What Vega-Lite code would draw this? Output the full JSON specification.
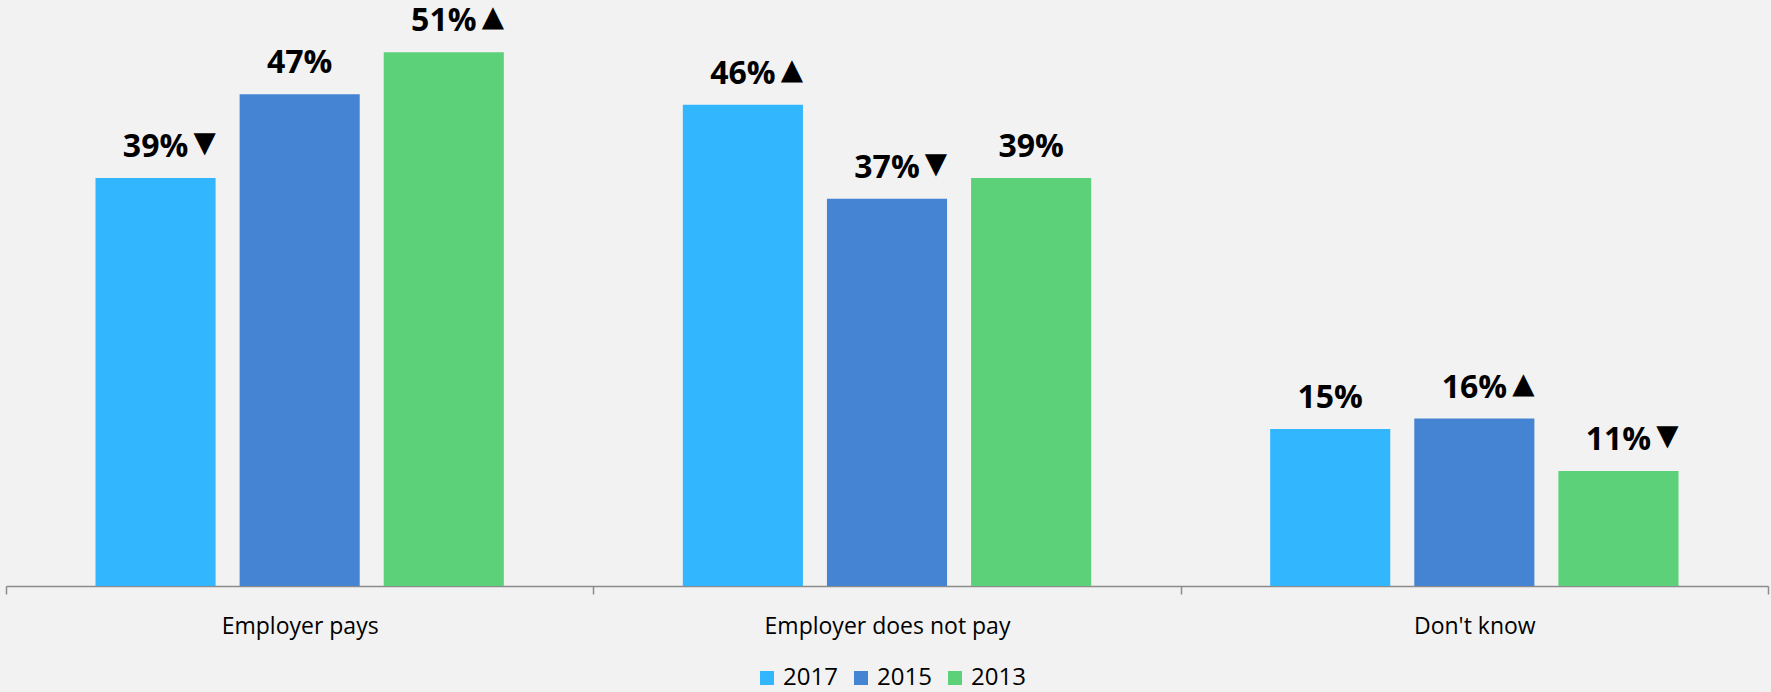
{
  "$schema": "https://vega.github.io/schema/vega-lite/v6.json",
  "width": 1762,
  "height": 586,
  "autosize": {"type": "none"},
  "padding": {"left": 6, "top": 0, "right": 3, "bottom": 106},
  "background": "#f2f2f2",
  "config": {"view": {"stroke": null}, "font": "Open Sans"},
  "data": {"values": [
    {"cat": "Employer pays", "year": "2017", "value": 0.39, "label": "39%", "arrow": "▼"},
    {"cat": "Employer pays", "year": "2015", "value": 0.47, "label": "47%", "arrow": ""},
    {"cat": "Employer pays", "year": "2013", "value": 0.51, "label": "51%", "arrow": "▲"},
    {"cat": "Employer does not pay", "year": "2017", "value": 0.46, "label": "46%", "arrow": "▲"},
    {"cat": "Employer does not pay", "year": "2015", "value": 0.37, "label": "37%", "arrow": "▼"},
    {"cat": "Employer does not pay", "year": "2013", "value": 0.39, "label": "39%", "arrow": ""},
    {"cat": "Don't know", "year": "2017", "value": 0.15, "label": "15%", "arrow": ""},
    {"cat": "Don't know", "year": "2015", "value": 0.16, "label": "16%", "arrow": "▲"},
    {"cat": "Don't know", "year": "2013", "value": 0.11, "label": "11%", "arrow": "▼"}
  ]},
  "encoding": {
    "x": {
      "field": "cat", "type": "nominal", "sort": ["Employer pays", "Employer does not pay", "Don't know"],
      "scale": {"paddingInner": 0, "paddingOuter": 0},
      "axis": {
        "title": null, "labelAngle": 0, "labelFontSize": 23, "labelColor": "#000000", "labelFont": "Open Sans", "labelLimit": 0,
        "domainColor": "#8c8c8c", "domainWidth": 1.5, "tickColor": "#8c8c8c", "tickWidth": 1.5, "tickSize": 8,
        "tickBand": "extent", "labelPadding": 21, "grid": false
      }
    },
    "xOffset": {
      "field": "year", "type": "nominal", "sort": ["2017", "2015", "2013"],
      "scale": {"paddingInner": 0.1667, "paddingOuter": 0.621}
    },
    "y": {
      "field": "value", "type": "quantitative",
      "scale": {"domain": [0, 0.56], "nice": false, "zero": true},
      "axis": null
    }
  },
  "layer": [
    {
      "mark": {"type": "bar"},
      "encoding": {
        "color": {
          "field": "year", "type": "nominal", "sort": ["2017", "2015", "2013"],
          "scale": {"domain": ["2017", "2015", "2013"], "range": ["#32b6fe", "#4584d3", "#5cd17a"]},
          "legend": {
            "title": null, "orient": "none", "direction": "horizontal", "legendX": 749, "legendY": 666,
            "symbolType": "square", "symbolSize": 196, "symbolStrokeWidth": 0, "symbolOpacity": 1,
            "labelFontSize": 24, "labelColor": "#000000", "labelFont": "Open Sans", "columnPadding": 11, "labelOffset": 4, "padding": 0
          }
        }
      }
    },
    {
      "mark": {"type": "text", "baseline": "alphabetic", "dy": -21, "fontSize": 32, "fontWeight": "bold", "color": "#000000"},
      "encoding": {"text": {"field": "label"}}
    },
    {
      "mark": {"type": "text", "baseline": "alphabetic", "dy": -26, "dx": 49, "fontSize": 29, "font": "DejaVu Sans", "color": "#000000"},
      "encoding": {"text": {"field": "arrow"}}
    }
  ]
}
